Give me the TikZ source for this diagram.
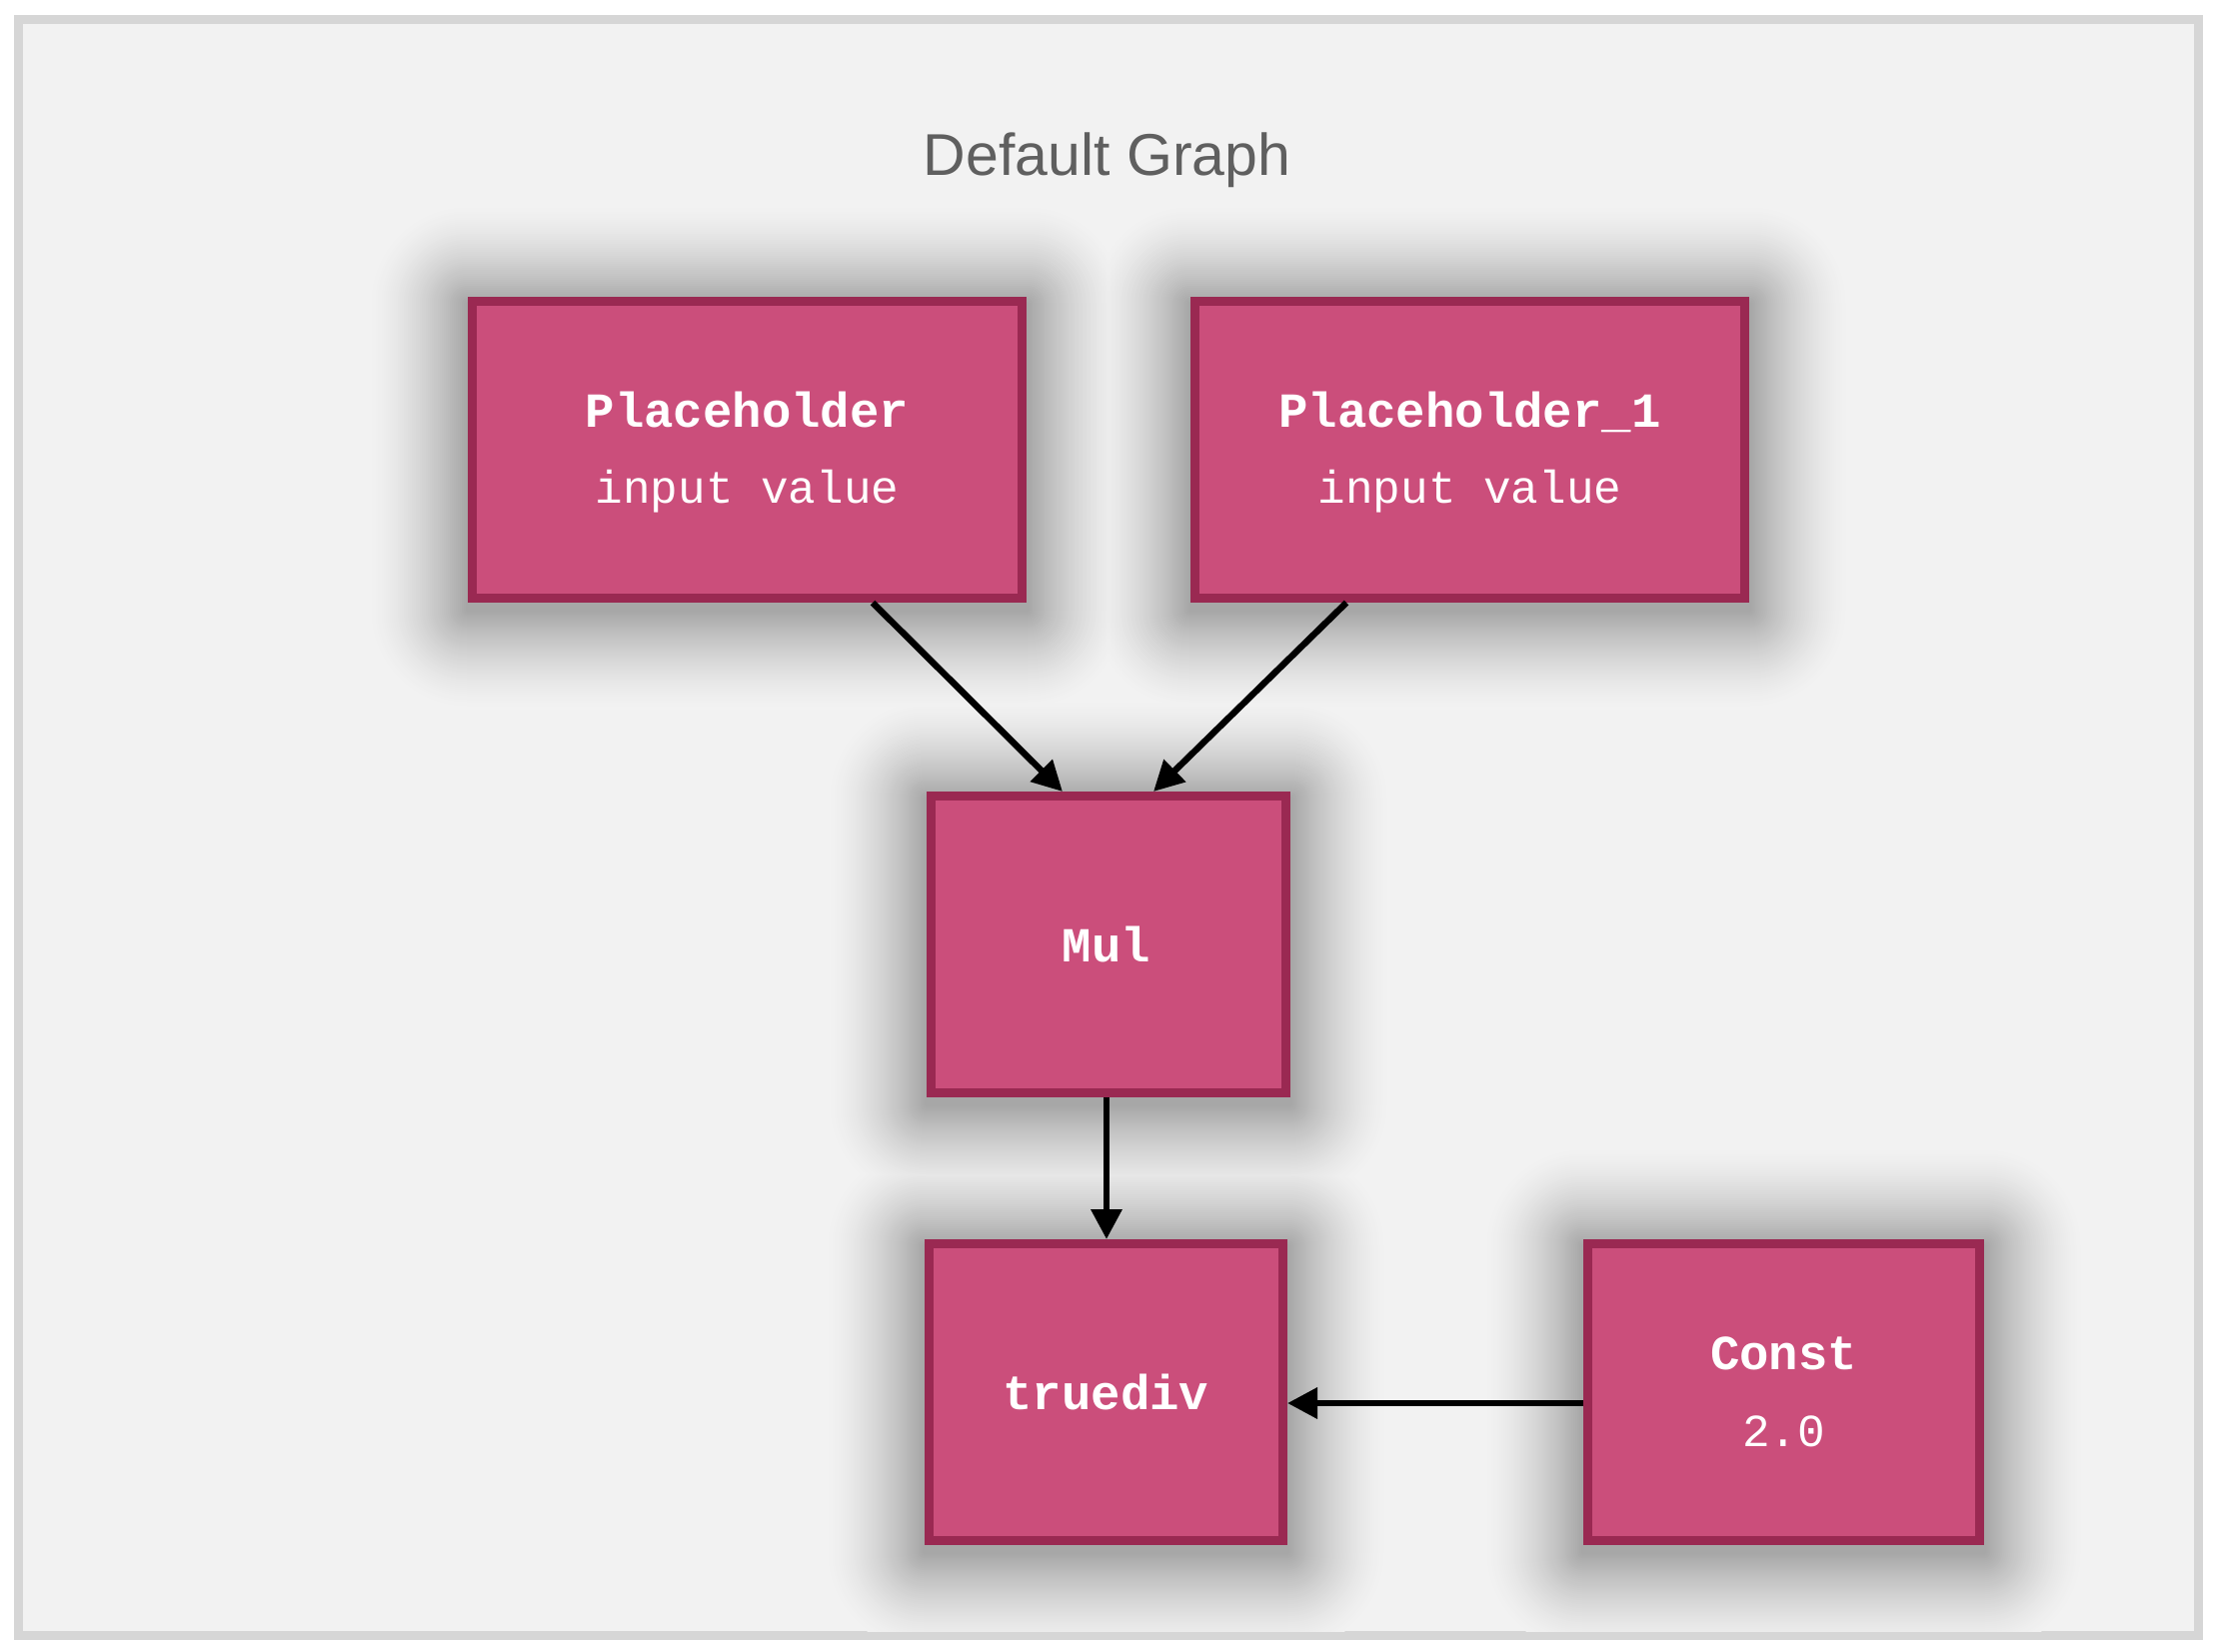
\documentclass[tikz,border=0pt]{standalone}
\usepackage{fontspec}
\setmainfont{Liberation Sans}
\newfontfamily\monof{Liberation Mono}
\usetikzlibrary{arrows.meta,calc}
\definecolor{framefill}{HTML}{F2F2F2}
\definecolor{framedraw}{HTML}{D6D6D6}
\definecolor{opfill}{RGB}{203,78,123}
\definecolor{opdraw}{RGB}{154,41,82}
\definecolor{titlec}{HTML}{5F5F5F}
\pgfdeclarelayer{bg}
\pgfdeclarelayer{shadowlayer}
\pgfsetlayers{bg,shadowlayer,main}
\tikzset{
  opbox/.style={rectangle, draw=opdraw, fill=opfill, line width=9pt, inner sep=0pt},
  optitle/.style={anchor=base, text=white, font=\monof\bfseries\fontsize{49}{58}\selectfont, inner sep=0pt},
  opsub/.style={anchor=base, text=white, font=\monof\fontsize{46}{58}\selectfont, inner sep=0pt},
  conn/.style={line width=6.5pt, draw=black, -{Triangle[length=30pt,width=30pt]}},
}
\begin{document}
\begin{tikzpicture}[x=1pt, y=-1pt]
\useasboundingbox (0,0) rectangle (2222,1652);
\begin{pgfonlayer}{bg}
  \fill[white] (0,0) rectangle (2222,1652);
  \draw[framedraw, fill=framefill, line width=9pt] (18.5,19.5) rectangle (2199.5,1636.5);
\end{pgfonlayer}

\node[font=\fontsize{59}{70}\selectfont, text=titlec, anchor=base, inner sep=0pt] (title) at (1107.5,175) {Default Graph};

\node[opbox, minimum width=550pt, minimum height=297pt] (ph) at (747.5,450) {};
\node[opbox, minimum width=550pt, minimum height=297pt] (ph1) at (1470.5,450) {};
\node[opbox, minimum width=355pt, minimum height=297pt] (mul) at (1109,945) {};
\node[opbox, minimum width=354pt, minimum height=297pt] (div) at (1106.5,1393) {};
\node[opbox, minimum width=392pt, minimum height=297pt] (const) at (1784.5,1393) {};

\begin{pgfonlayer}{shadowlayer}
  \begin{scope}
    \clip (23,24) rectangle (2195,1632);
    \foreach \k in {0,...,48}{%
      \pgfmathsetmacro\ee{98-2*\k}%
      \pgfmathsetmacro\pp{32*(1-\ee/100)^1.5}%
      \foreach \n in {ph,ph1,mul,div,const}{%
        \fill[black!\pp!framefill, rounded corners=\ee pt]
          ($(\n.north west)+(-\ee,-\ee+7)$) rectangle ($(\n.south east)+(\ee,\ee+7)$);
      }%
    }
  \end{scope}
\end{pgfonlayer}

\node[optitle] (phT) at ($(ph.center)+(0,-23)$) {Placeholder};
\node[opsub] (phS) at ($(ph.center)+(0,53)$) {input value};
\node[optitle] (ph1T) at ($(ph1.center)+(0,-23)$) {Placeholder\_1};
\node[opsub] (ph1S) at ($(ph1.center)+(0,53)$) {input value};
\node[optitle] (mulT) at ($(mul.center)+(-2,17)$) {Mul};
\node[optitle] (divT) at ($(div.center)+(0,17)$) {truediv};
\node[optitle] (constT) at ($(const.center)+(0,-23)$) {Const};
\node[opsub] (constS) at ($(const.center)+(0,54)$) {2.0};

\draw[conn] ($(ph.south)+(125.5,0)$) -- ($(mul.north)+(-46,0)$);
\draw[conn] ($(ph1.south)+(-123.5,0)$) -- ($(mul.north)+(45,0)$);
\draw[conn] ($(mul.south)+(-2,0)$) -- ($(div.north)+(0.5,0)$);
\coordinate (cstart) at ($(const.west)+(0,11)$);
\draw[conn] (cstart) -- (div.east |- cstart);
\end{tikzpicture}
\end{document}
